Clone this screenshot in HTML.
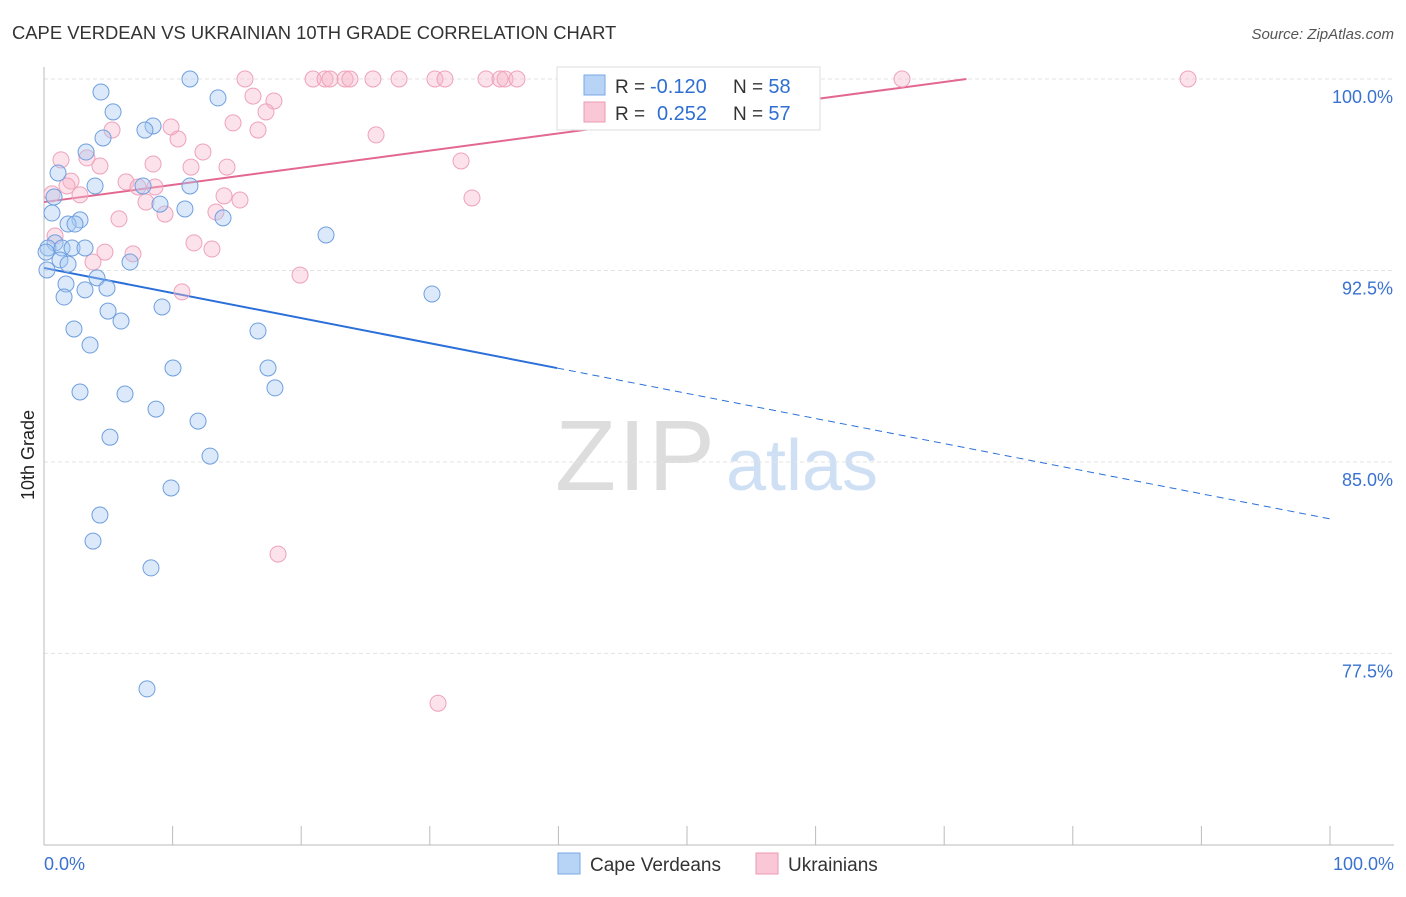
<!DOCTYPE html>
<html><head><meta charset="utf-8"><style>
body{margin:0;background:#fff;font-family:"Liberation Sans",sans-serif;}
svg text{font-family:"Liberation Sans",sans-serif;}
</style></head><body>
<svg id="chart" width="1406" height="892">
<text x="12" y="39" font-size="18.4" fill="#333">CAPE VERDEAN VS UKRAINIAN 10TH GRADE CORRELATION CHART</text>
<text x="1394" y="39" font-size="15" fill="#555" font-style="italic" text-anchor="end">Source: ZipAtlas.com</text>
<text x="34" y="455" font-size="18" fill="#222" transform="rotate(-90 34 455)" text-anchor="middle">10th Grade</text>
<g><text x="635" y="490" font-size="100" fill="#ddd" font-family="Liberation Serif" text-anchor="middle" textLength="160">ZIP</text><text x="802" y="490" font-size="72" fill="#cfe0f5" text-anchor="middle">atlas</text></g>
<g id="grid"></g><g id="axes"></g><g id="lines"></g><g id="pts"></g>
<g>
<rect x="557" y="67" width="263" height="63" fill="#fff" stroke="#ddd"/>
<rect x="584" y="75" width="21" height="20" fill="#b7d3f5" stroke="#7aaae6"/>
<rect x="584" y="102" width="21" height="20" fill="#f9c7d6" stroke="#ec9ab3"/>
<text x="615" y="93" font-size="19" fill="#333">R =</text><text x="650" y="93" font-size="20" fill="#2f6fd1">-0.120</text>
<text x="733" y="93" font-size="19" fill="#333">N = <tspan fill="#2f6fd1" font-size="20">58</tspan></text>
<text x="615" y="120" font-size="19" fill="#333">R =</text><text x="657" y="120" font-size="20" fill="#2f6fd1">0.252</text>
<text x="733" y="120" font-size="19" fill="#333">N = <tspan fill="#2f6fd1" font-size="20">57</tspan></text>
</g>
<g>
<rect x="558" y="853" width="22" height="21" fill="#b7d3f5" stroke="#7aaae6"/>
<text x="590" y="871" font-size="19" fill="#333">Cape Verdeans</text>
<rect x="756" y="853" width="22" height="21" fill="#f9c7d6" stroke="#ec9ab3"/>
<text x="788" y="871" font-size="19" fill="#333">Ukrainians</text>
</g>
</svg>
<script>
const blueX=[11.35,4.43,13.53,5.37,8.48,7.85,4.59,3.27,1.09,3.97,7.70,11.35,0.78,9.02,10.96,0.62,13.92,2.80,1.87,2.41,21.93,0.86,0.31,1.40,2.18,3.19,0.16,1.24,1.87,6.69,0.23,4.12,1.71,3.19,4.90,1.56,9.18,4.98,5.99,2.33,16.64,3.58,10.03,17.42,2.80,6.30,17.96,8.71,11.98,5.13,12.91,9.88,4.35,3.81,8.32,8.01,30.17];
const blueY=[100,99.49,99.26,98.71,98.16,98.0,97.69,97.14,96.32,95.81,95.81,95.81,95.38,95.10,94.91,94.75,94.56,94.48,94.32,94.32,93.89,93.58,93.38,93.38,93.38,93.38,93.22,92.91,92.75,92.83,92.52,92.21,91.97,91.74,91.81,91.46,91.07,90.91,90.52,90.21,90.13,89.58,88.68,88.68,87.74,87.66,87.90,87.07,86.60,85.97,85.23,83.98,82.92,81.90,80.85,76.11,91.58];
const pinkX=[15.63,20.92,21.85,22.24,23.41,23.79,25.58,27.61,30.40,31.18,34.37,35.46,35.85,36.78,47.51,66.72,88.96,16.25,17.88,17.26,5.29,9.88,14.70,16.64,25.82,10.42,12.36,1.32,3.34,4.35,8.48,11.43,14.23,32.43,2.10,6.38,7.31,8.63,1.79,0.62,2.80,7.93,14.0,15.24,9.41,13.37,33.28,5.83,11.66,13.06,4.74,6.92,3.81,10.73,19.91,18.20,30.64,0.86];
const pinkY=[100,100,100,100,100,100,100,100,100,100,100,100,100,100,100,100,100,99.33,99.14,98.71,98.0,98.12,98.28,98.0,97.81,97.65,97.14,96.83,96.91,96.59,96.67,96.55,96.55,96.79,96.0,95.97,95.77,95.77,95.81,95.50,95.46,95.18,95.42,95.26,94.71,94.79,95.34,94.52,93.58,93.34,93.22,93.15,92.83,91.66,92.32,81.39,75.55,93.85];
const yTicks=[100,92.5,85,77.5];
const yTickLabels=["100.0%","92.5%","85.0%","77.5%"];
const blueTrend=[92.6,82.77];
const blueSolidEnd=39.9;
const pinkTrend=[95.18,101.9];
const X=v=>44+v*12.86, Y=v=>79+(100-v)*25.53;
const NS="http://www.w3.org/2000/svg";
function mk(tag,attrs,parent){const e=document.createElementNS(NS,tag);for(const k in attrs)e.setAttribute(k,attrs[k]);document.getElementById(parent).appendChild(e);return e;}
yTicks.forEach((t,i)=>{
 const g=mk('line',{x1:44,x2:1394,y1:Y(t),y2:Y(t),stroke:'#e3e3e3','stroke-dasharray':'4,3'},'grid');
 
 
 const l=mk('text',{x:1393,y:Y(t)+24,'font-size':18,fill:'#3a72d0','text-anchor':'end'},'axes');
 l.textContent=yTickLabels[i];
 
 
});
const ax=mk('line',{x1:44,x2:44,y1:67,y2:845,stroke:'#bbb'},'axes');


const bx=mk('line',{x1:44,x2:1394,y1:845,y2:845,stroke:'#bbb'},'axes');


for(let i=0;i<=10;i++){const t=mk('line',{x1:X(i*10),x2:X(i*10),y1:826,y2:845,stroke:'#bbb'},'axes');
 
 }
[["0.0%",44,'start'],["100.0%",1394,'end']].forEach(a=>{const t=mk('text',{x:a[1],y:870,'font-size':18,fill:'#3a72d0','text-anchor':a[2]},'axes');t.textContent=a[0];
 
 });
const by=x=>blueTrend[0]+(blueTrend[1]-blueTrend[0])*x/100;
let l1=mk('line',{x1:X(0),y1:Y(by(0)),x2:X(blueSolidEnd),y2:Y(by(blueSolidEnd)),stroke:'#2a70d8','stroke-width':2},'lines');


let l2=mk('line',{x1:X(blueSolidEnd),y1:Y(by(blueSolidEnd)),x2:X(100),y2:Y(by(100)),stroke:'#2a70d8','stroke-width':1,'stroke-dasharray':'7,5'},'lines');


const pEnd=100*(100-pinkTrend[0])/(pinkTrend[1]-pinkTrend[0]);
let l3=mk('line',{x1:X(0),y1:Y(pinkTrend[0]),x2:X(pEnd),y2:Y(100),stroke:'#e36890','stroke-width':2},'lines');


pinkX.forEach((x,i)=>{const c=mk('circle',{cx:X(x),cy:Y(pinkY[i]),r:8,fill:'rgba(247,182,202,0.4)',stroke:'#eea2bb','stroke-width':1},'pts');
 
 });
blueX.forEach((x,i)=>{const c=mk('circle',{cx:X(x),cy:Y(blueY[i]),r:8,fill:'rgba(164,199,242,0.4)',stroke:'#6f9fde','stroke-width':1},'pts');
 
 });
</script>
</body></html>
